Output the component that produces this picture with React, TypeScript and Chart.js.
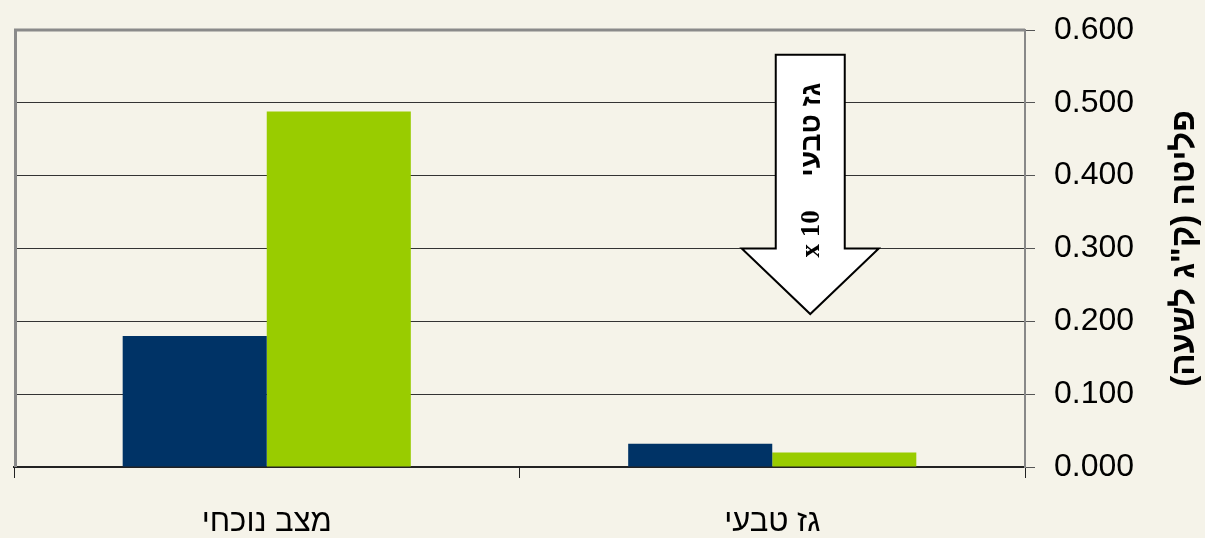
import React, { useEffect, useRef } from "react";
import { Chart, registerables } from "chart.js";

Chart.register(...registerables);

const categories = ["מצב נוכחי", "גז טבעי"];
const seriesNavy = [0.18, 0.032];
const seriesGreen = [0.488, 0.02];
const yTitle = 'פליטה (ק"ג לשעה)';
const arrowTextLatin = "x 10";
const arrowTextHebrew = "גז טבעי";

const BG = "#f5f3e9";
const FONT = "'Liberation Sans', Arial, sans-serif";

const decorPlugin = {
  id: "decor",
  beforeDraw(chart: any) {
    const { ctx, width, height } = chart;
    ctx.save();
    ctx.fillStyle = BG;
    ctx.fillRect(0, 0, width, height);
    ctx.restore();
  },
  afterDatasetsDraw(chart: any) {
    const { ctx, chartArea, scales } = chart;
    const x = scales.x;
    const y = scales.y;
    ctx.save();
    // plot border (top and left, gray)
    ctx.strokeStyle = "#8a8a8a";
    ctx.lineWidth = 3;
    ctx.beginPath();
    ctx.moveTo(chartArea.left + 1.5, chartArea.bottom);
    ctx.lineTo(chartArea.left + 1.5, chartArea.top);
    ctx.lineTo(chartArea.right, chartArea.top);
    ctx.stroke();

    // arrow annotation
    const cx = x.getPixelForValue(1) + 38;
    const yTop = y.getPixelForValue(0.566);
    const yNeck = y.getPixelForValue(0.3);
    const yTip = y.getPixelForValue(0.21);
    const sw = 34.5;
    const hw = 68.5;
    ctx.beginPath();
    ctx.moveTo(cx - sw, yTop);
    ctx.lineTo(cx + sw, yTop);
    ctx.lineTo(cx + sw, yNeck);
    ctx.lineTo(cx + hw, yNeck);
    ctx.lineTo(cx, yTip);
    ctx.lineTo(cx - hw, yNeck);
    ctx.lineTo(cx - sw, yNeck);
    ctx.closePath();
    ctx.fillStyle = "#ffffff";
    ctx.fill();
    ctx.strokeStyle = "#000000";
    ctx.lineWidth = 2;
    ctx.lineJoin = "miter";
    ctx.stroke();

    ctx.fillStyle = "#000";
    ctx.textAlign = "center";
    ctx.textBaseline = "middle";

    ctx.save();
    ctx.translate(cx + 2, y.getPixelForValue(0.463));
    ctx.rotate(-Math.PI / 2);
    ctx.direction = "rtl";
    ctx.font = `bold 28px ${FONT}`;
    ctx.fillText(arrowTextHebrew, 0, 0);
    ctx.restore();

    ctx.save();
    ctx.translate(cx + 2, y.getPixelForValue(0.32));
    ctx.rotate(-Math.PI / 2);
    ctx.font = "bold 27px 'Liberation Serif', 'Times New Roman', serif";
    ctx.fillText(arrowTextLatin, 0, 0);
    ctx.restore();

    ctx.restore();
  },
  afterDraw(chart: any) {
    const { ctx, chartArea } = chart;
    ctx.save();
    ctx.translate(1185, (chartArea.top + chartArea.bottom) / 2);
    ctx.rotate(-Math.PI / 2);
    ctx.direction = "rtl";
    ctx.fillStyle = "#000";
    ctx.font = `bold 33px ${FONT}`;
    ctx.textAlign = "center";
    ctx.textBaseline = "middle";
    ctx.fillText(yTitle, 0, 0);
    ctx.restore();
  },
};

export default function App() {
  const ref = useRef<HTMLCanvasElement>(null);
  useEffect(() => {
    document.body.style.background = BG;
    const chart = new Chart(ref.current!, {
      type: "bar",
      data: {
        labels: categories,
        datasets: [
          {
            data: seriesNavy,
            backgroundColor: "#003366",
            borderWidth: 0,
            categoryPercentage: 0.57,
            barPercentage: 1,
          },
          {
            data: seriesGreen,
            backgroundColor: "#99cc00",
            borderWidth: 0,
            categoryPercentage: 0.57,
            barPercentage: 1,
          },
        ],
      },
      options: {
        animation: false,
        responsive: false,
        maintainAspectRatio: false,
        layout: { padding: { left: 14, top: 30, right: 0, bottom: 0 } },
        plugins: {
          legend: { display: false },
          tooltip: { enabled: false },
        },
        scales: {
          x: {
            grid: {
              drawOnChartArea: false,
              drawTicks: true,
              tickLength: 11,
              color: "#222",
              offset: true,
            },
            border: { display: true, color: "#222", width: 2 },
            ticks: {
              color: "#000",
              font: { family: FONT, size: 31 },
              padding: 26,
              maxRotation: 0,
            },
            afterFit: (s: any) => {
              s.height = 71;
              s.paddingLeft = 0;
              s.paddingRight = 0;
            },
          },
          y: {
            position: "right",
            min: 0,
            max: 0.6,
            ticks: {
              stepSize: 0.1,
              color: "#000",
              font: { family: FONT, size: 32 },
              padding: 19,
              callback: (v: any) => Number(v).toFixed(3),
            },
            grid: {
              color: "#333",
              lineWidth: 1,
              tickLength: 10,
              tickColor: "#555",
            },
            border: { display: true, color: "#888", width: 2 },
            afterFit: (s: any) => {
              s.width = 180;
              s.paddingTop = 0;
              s.paddingBottom = 0;
            },
          },
        },
      },
      plugins: [decorPlugin],
    });
    return () => chart.destroy();
  }, []);
  return (
    <div style={{ position: "fixed", left: 0, top: 0, width: 1205, height: 538, background: BG }}>
      <canvas ref={ref} width={1205} height={538} style={{ display: "block" }} />
    </div>
  );
}
